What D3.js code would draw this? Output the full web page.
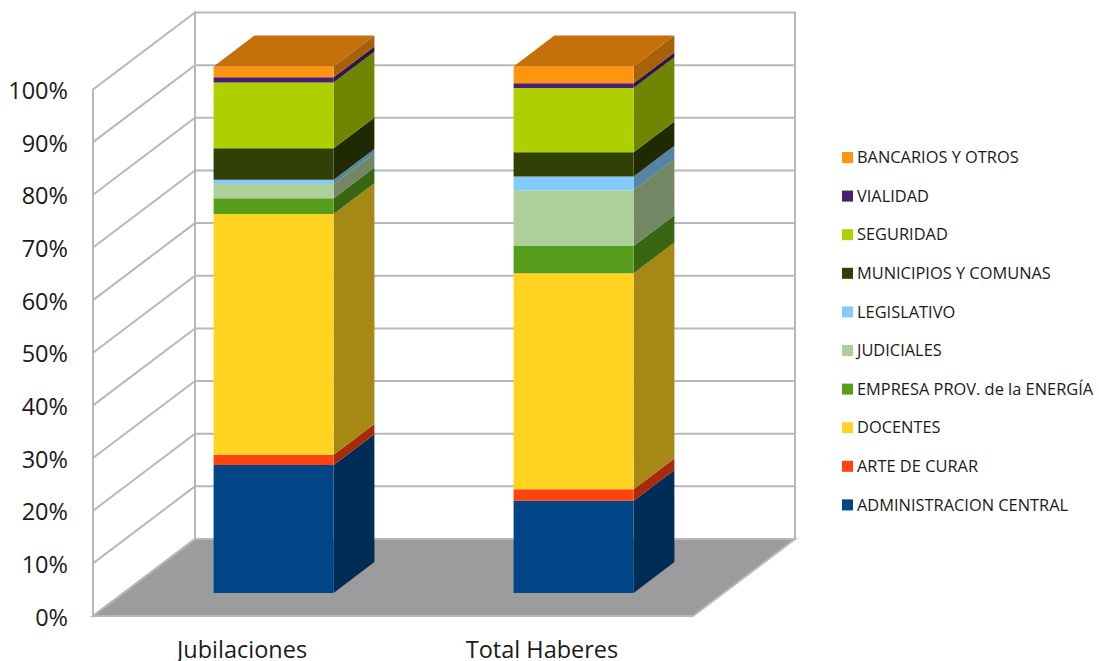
<!DOCTYPE html>
<html>
<head>
<meta charset="utf-8">
<script src="https://cdn.jsdelivr.net/npm/d3@7"></script>
<style>
body { margin: 0; background: #fff; }
svg { display: block; }
text { fill: #1a1a1a; }
</style>
</head>
<body>
<div id="chart"></div>
<script>
var width = 1099,
    height = 661;

var categories = ["Jubilaciones", "Total Haberes"];

// bottom of the stack first
var seriesNames = ["ADMINISTRACION CENTRAL", "ARTE DE CURAR", "DOCENTES", "EMPRESA PROV. de la ENERGÍA",
    "JUDICIALES", "LEGISLATIVO", "MUNICIPIOS Y COMUNAS", "SEGURIDAD", "VIALIDAD", "BANCARIOS Y OTROS"];
var jubilaciones = [24.3, 1.95, 45.7, 3.0, 2.7, 0.8, 6.0, 12.5, 1.0, 2.05];
var totalHaberes = [17.5, 2.2, 41.0, 5.2, 10.6, 2.6, 4.6, 12.2, 0.9, 3.2];
var colors = ["#004586", "#ff420e", "#ffd320", "#579d1c", "#aecf9a", "#83caff", "#314004", "#aecf00", "#4b1f6f", "#ff950e"];
var sideColors = ["#002d56", "#a82b09", "#a68914", "#396612", "#738764", "#5584a6", "#1f2a02", "#718600", "#311448", "#a66109"];
var topColor = "#c5710b";
var tickValues = [0, 10, 20, 30, 40, 50, 60, 70, 80, 90, 100];

var gridColor = "#b8b8b8";
var floorColor = "#9c9c9c";

var depthX = 102,
    depthY = -77;

var x = d3.scaleBand().domain(categories).range([93, 693]);
var y = d3.scaleLinear().domain([0, 100]).range([616, 89.5]);

var barFront = 0.3,
    barBack = 0.7,
    barWidth = 120;

// a point in the box: px across, value up, d from front (0) to back (1)
function pt(px, value, d) {
    return [px + depthX * d, y(value) + depthY * d];
}

function poly(points) {
    return points.map(function(p) { return p.join(","); }).join(" ");
}

var rows = categories.map(function(c, i) {
    var row = { category: c };
    seriesNames.forEach(function(s, j) {
        row[s] = (i == 0 ? jubilaciones : totalHaberes)[j];
    });
    return row;
});
var stacked = d3.stack().keys(seriesNames)(rows);

var svg = d3.select("#chart").append("svg")
    .attr("width", width)
    .attr("height", height);

var x0 = x.range()[0],
    x1 = x.range()[1];

// walls
svg.append("polygon")
    .attr("points", poly([pt(x0, 0, 0), pt(x0, 100, 0), pt(x0, 100, 1), pt(x0, 0, 1)]))
    .attr("fill", "#fff")
    .attr("stroke", gridColor)
    .attr("stroke-width", 2);
svg.append("polygon")
    .attr("points", poly([pt(x0, 0, 1), pt(x0, 100, 1), pt(x1, 100, 1), pt(x1, 0, 1)]))
    .attr("fill", "#fff")
    .attr("stroke", gridColor)
    .attr("stroke-width", 2);

// grid lines
svg.append("g").selectAll("polyline")
    .data(tickValues.slice(1, -1))
    .enter().append("polyline")
    .attr("points", function(t) { return poly([pt(x0, t, 0), pt(x0, t, 1), pt(x1, t, 1)]); })
    .attr("fill", "none")
    .attr("stroke", gridColor)
    .attr("stroke-width", 2);

// floor
svg.append("polygon")
    .attr("points", poly([pt(x0, 0, 0), pt(x0, 0, 1), pt(x1, 0, 1), pt(x1, 0, 0)]))
    .attr("fill", floorColor)
    .attr("stroke", gridColor)
    .attr("stroke-width", 2);

// bars
categories.forEach(function(c, i) {
    var left = x(c) + (x.bandwidth() - barWidth) / 2;
    var right = left + barWidth;
    var g = svg.append("g");

    stacked.forEach(function(layer, j) {
        var lo = layer[i][0],
            hi = layer[i][1];
        g.append("polygon")
            .attr("points", poly([pt(right, lo, barFront), pt(right, hi, barFront), pt(right, hi, barBack), pt(right, lo, barBack)]))
            .attr("fill", sideColors[j]);
        g.append("polygon")
            .attr("points", poly([pt(left, lo, barFront), pt(left, hi, barFront), pt(right, hi, barFront), pt(right, lo, barFront)]))
            .attr("fill", colors[j]);
    });

    var total = stacked[stacked.length - 1][i][1];
    g.append("polygon")
        .attr("points", poly([pt(left, total, barFront), pt(left, total, barBack), pt(right, total, barBack), pt(right, total, barFront)]))
        .attr("fill", topColor);
});

// axes
var yAxis = svg.append("g")
    .attr("transform", "translate(68,1.5)")
    .call(d3.axisLeft(y).tickValues(tickValues).tickSize(0).tickPadding(0)
        .tickFormat(function(d) { return d + "%"; }));
yAxis.select(".domain").remove();
yAxis.selectAll("text")
    .style("font-family", "'Open Sans', sans-serif")
    .style("font-size", "23.5px");

var xAxis = svg.append("g")
    .attr("transform", "translate(-1,641)")
    .call(d3.axisBottom(x).tickSize(0).tickPadding(0));
xAxis.select(".domain").remove();
xAxis.selectAll("text")
    .style("font-family", "'Open Sans', sans-serif")
    .style("font-size", "23.5px");

// legend, top entry is the top of the stack
var legend = svg.append("g").selectAll("g")
    .data(d3.range(seriesNames.length).reverse())
    .enter().append("g")
    .attr("transform", function(j, k) { return "translate(842," + (157.5 + k * 38.6) + ")"; });
legend.append("rect")
    .attr("y", -5.5)
    .attr("width", 11)
    .attr("height", 11)
    .attr("fill", function(j) { return colors[j]; });
legend.append("text")
    .attr("x", 15)
    .attr("dy", "0.35em")
    .style("font-family", "'Open Sans', sans-serif")
    .style("font-size", "16.4px")
    .text(function(j) { return seriesNames[j]; });
</script>
</body>
</html>
